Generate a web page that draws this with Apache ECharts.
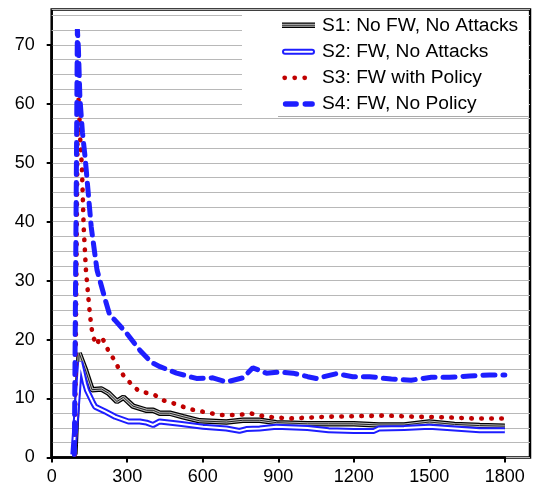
<!DOCTYPE html>
<html><head><meta charset="utf-8">
<script src="https://cdn.jsdelivr.net/npm/echarts@6/dist/echarts.min.js"></script>
<style>html,body{margin:0;padding:0;background:#fff}#c{width:533px;height:490px}</style>
</head><body><div id="c"></div>
<script>
// ---- data ----
const seriesNames = ['S1: No FW, No Attacks', 'S2: FW, No Attacks', 'S3: FW with Policy', 'S4: FW, No Policy'];

const s1X = [92, 109, 132, 160, 198, 226, 259, 285, 323, 377, 403, 429, 469, 522, 588, 694, 759, 826, 892, 1016, 1100, 1200, 1300, 1400, 1500, 1600, 1700, 1800];
const s1Y = [0.5, 17.7, 15.1, 11.5, 11.6, 10.9, 9.5, 10.2, 8.7, 8.0, 8.0, 7.5, 7.5, 6.9, 6.2, 6.0, 6.3, 6.3, 5.9, 5.7, 5.7, 5.7, 5.5, 5.5, 6.0, 5.6, 5.4, 5.3];

const s2X = [86, 113, 132, 140, 165, 173, 212, 252, 305, 350, 377, 403, 429, 508, 601, 694, 746, 773, 826, 892, 1016, 1100, 1200, 1280, 1300, 1400, 1500, 1600, 1700, 1800];
const s2Y = [0.5, 16.2, 12.6, 11.4, 9.2, 8.6, 7.8, 6.9, 6.1, 6.1, 5.9, 5.5, 6.1, 5.7, 5.2, 4.9, 4.5, 4.8, 4.9, 5.2, 5.0, 4.6, 4.5, 4.5, 4.9, 5.0, 5.2, 4.9, 4.6, 4.6];

const s3X = [92, 104, 108, 113, 120, 127, 136, 149, 157, 164, 177, 197, 212, 228, 250, 268, 289, 315, 345, 409, 442, 482, 548, 595, 667, 746, 786, 852, 944, 1090, 1209, 1328, 1447, 1566, 1685, 1800];
const s3Y = [0.5, 62.0, 60.0, 54.2, 49.3, 39.1, 31.8, 25.5, 22.3, 20.6, 19.1, 20.5, 19.4, 17.8, 16.5, 14.9, 13.7, 12.5, 11.3, 10.6, 9.7, 9.2, 8.2, 7.8, 7.2, 7.2, 7.5, 6.9, 6.6, 6.9, 7.0, 7.1, 6.9, 6.8, 6.6, 6.6];

const s4X = [90, 102, 106, 112, 122, 133, 157, 180, 213, 231, 251, 297, 350, 397, 430, 496, 575, 640, 694, 759, 799, 853, 906, 958, 1017, 1051, 1131, 1196, 1263, 1349, 1428, 1508, 1580, 1660, 1739, 1800];
const s4Y = [0.5, 72.7, 69.5, 61.0, 55.2, 50.8, 39.1, 31.8, 26.7, 24.1, 23.3, 21.1, 18.2, 16.1, 15.4, 14.3, 13.4, 13.5, 12.8, 13.5, 15.2, 14.3, 14.5, 14.3, 13.7, 13.4, 14.2, 13.7, 13.7, 13.3, 13.1, 13.6, 13.6, 13.8, 14.0, 14.0];

// axis ranges / ticks
const xMax = 1900, yMax = 76, yGridStep = 2.5;
const xTickMax = 1800, xTickStep = 300;
const yTickMax = 70, yTickStep = 10;

// ---- layout ----
const L = 51.7, R = 530, T = 9.6, B = 457.4;
const pxX = (R - L) / xMax, pxY = (B - T) / yMax;
const FONT = '"Liberation Sans", Arial, sans-serif';
const BLUE = '#1e1eff', RED = '#c00000';

const pairs = (xs, ys) => xs.map((x, i) => [x, ys[i]]);
const d1 = pairs(s1X, s1Y), d2 = pairs(s2X, s2Y), d3 = pairs(s3X, s3Y), d4 = pairs(s4X, s4Y);

function line(data, ls, z) {
  return { type: 'line', xAxisIndex: 0, yAxisIndex: 0, data: data, symbol: 'none', showSymbol: false,
           silent: true, animation: false, z: z, lineStyle: ls };
}

const chart = echarts.init(document.getElementById('c'), null, { renderer: 'canvas' });

const legendRows = [25.3, 51.7, 77.8, 104];
const ix1 = 282, ix2 = 315, tx = 322;
const graphic = [
  { type: 'rect', shape: { x: 242, y: 11, width: 286.5, height: 106 }, style: { fill: '#fff' }, z: 10 },
  { type: 'line', shape: { x1: 278, y1: 116.5, x2: 528.5, y2: 116.5 }, style: { stroke: '#aaa', lineWidth: 1 }, z: 11 },
  // S1 icon
  { type: 'line', shape: { x1: ix1, y1: legendRows[0], x2: ix2, y2: legendRows[0] }, style: { stroke: '#000', lineWidth: 5.5 }, z: 11 },
  { type: 'line', shape: { x1: ix1, y1: legendRows[0], x2: ix2, y2: legendRows[0] }, style: { stroke: '#bdbdbd', lineWidth: 3 }, z: 12 },
  { type: 'line', shape: { x1: ix1, y1: legendRows[0], x2: ix2, y2: legendRows[0] }, style: { stroke: '#333', lineWidth: 1 }, z: 13 },
  // S2 icon
  { type: 'line', shape: { x1: ix1 + 3, y1: legendRows[1], x2: ix2 - 3, y2: legendRows[1] }, style: { stroke: BLUE, lineWidth: 6, lineCap: 'round' }, z: 11 },
  { type: 'line', shape: { x1: ix1 + 3, y1: legendRows[1], x2: ix2 - 3, y2: legendRows[1] }, style: { stroke: '#fff', lineWidth: 2, lineCap: 'round' }, z: 12 },
  // S3 icon
  { type: 'circle', shape: { cx: 284.7, cy: legendRows[2], r: 2.4 }, style: { fill: RED }, z: 11 },
  { type: 'circle', shape: { cx: 294.7, cy: legendRows[2], r: 2.4 }, style: { fill: RED }, z: 11 },
  { type: 'circle', shape: { cx: 304.7, cy: legendRows[2], r: 2.4 }, style: { fill: RED }, z: 11 },
  // S4 icon
  { type: 'line', shape: { x1: 285.5, y1: legendRows[3], x2: 296.2, y2: legendRows[3] }, style: { stroke: BLUE, lineWidth: 5.3, lineCap: 'round' }, z: 11 },
  { type: 'line', shape: { x1: 305.2, y1: legendRows[3], x2: 312.2, y2: legendRows[3] }, style: { stroke: BLUE, lineWidth: 5.3, lineCap: 'round' }, z: 11 }
];
seriesNames.forEach((n, i) => {
  graphic.push({ type: 'text', z: 12, style: { x: tx, y: legendRows[i], text: n, font: '19.2px ' + FONT, fontSize: 19.2, fontFamily: FONT,
    fill: '#000', verticalAlign: 'middle', textVerticalAlign: 'middle' } });
});

chart.setOption({
  animation: false,
  backgroundColor: '#fff',
  grid: [
    { left: L, top: T, width: R - L, height: B - T, show: true, borderColor: '#000', borderWidth: 2.5, backgroundColor: 'transparent', containLabel: false },
    { left: L, top: B - yTickMax * pxY, width: xTickMax * pxX, height: yTickMax * pxY, containLabel: false }
  ],
  xAxis: [
    { gridIndex: 0, type: 'value', min: 0, max: xMax, axisLine: { show: false }, axisTick: { show: false }, axisLabel: { show: false }, splitLine: { show: false } },
    { gridIndex: 1, type: 'value', min: 0, max: xTickMax, interval: xTickStep,
      axisLine: { show: true, onZero: false, lineStyle: { color: '#000', width: 2.5 } },
      axisTick: { show: true, length: 5, lineStyle: { color: '#000', width: 2 } },
      axisLabel: { fontFamily: FONT, fontSize: 18, color: '#000', margin: 11, formatter: v => String(v) }, splitLine: { show: false } }
  ],
  yAxis: [
    { gridIndex: 0, type: 'value', min: 0, max: yMax, interval: yGridStep, axisLine: { show: false }, axisTick: { show: false }, axisLabel: { show: false },
      splitLine: { show: true, lineStyle: { color: '#b8b8b8', width: 1 } } },
    { gridIndex: 1, type: 'value', min: 0, max: yTickMax, interval: yTickStep,
      axisLine: { show: true, onZero: false, lineStyle: { color: '#000', width: 2.5 } },
      axisTick: { show: true, length: 5, lineStyle: { color: '#000', width: 2 } },
      axisLabel: { fontFamily: FONT, fontSize: 18, color: '#000', margin: 17, formatter: v => String(v) }, splitLine: { show: false } }
  ],
  graphic: graphic,
  series: [
    line(d1, { color: '#000', width: 5.5 }, 2),
    line(d1, { color: '#bdbdbd', width: 3 }, 3),
    line(d1, { color: '#222', width: 1 }, 4),
    line(d2, { color: BLUE, width: 6 }, 5),
    line(d2, { color: '#fff', width: 2 }, 6),
    line(d3, { color: RED, width: 4.6, type: [0.5, 9.5], cap: 'round' }, 7),
    line(d4, { color: BLUE, width: 5, type: [12, 8], cap: 'round' }, 8)
  ]
});
</script>
</body></html>
